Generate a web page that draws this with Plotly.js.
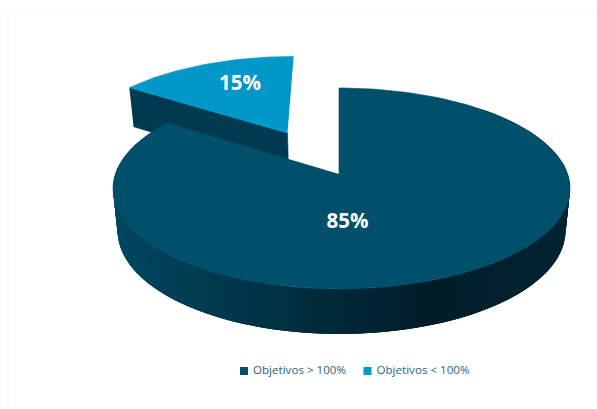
<!DOCTYPE html>
<html><head><meta charset="utf-8">
<script src="https://cdn.plot.ly/plotly-3.0.1.min.js"></script>
<style>html,body{margin:0;padding:0;background:#fff}#c{width:597px;height:409px}</style>
</head><body><div id="c"></div>
<script>
const categories = ['Objetivos > 100%', 'Objetivos < 100%'];
const values = [85, 15];
const labels = ['85%', '15%'];
const topColors = ['#004F6B', '#0097C9'];
const sliceWallColor = '#003A50';
const legendTextColor = '#2B6578';

// View of the tilted disc on the pixel-ranged axes
const view = {x0:339, y0:174, ax:[223.6,228.6], b:98.4, k:0.144, warp:2, depth:42, depthTilt:3, shrink:0.98, xc:341};
const explode = [[0,0],[-0.245,0.443]];

function rim(deg, off){
  const t = (deg + view.warp*Math.sin(2*deg*Math.PI/180))*Math.PI/180;
  return [off[0]+Math.sin(t), off[1]+Math.cos(t)];
}
function proj(p){
  const w = 1+view.k*p[1], a = p[0]<0?view.ax[0]:view.ax[1];
  return [view.x0+a*p[0]/w, view.y0-view.b*p[1]/w];
}
function lower(p){
  const q = proj(p);
  return [view.xc+(q[0]-view.xc)*view.shrink, q[1]+view.depth-view.depthTilt*p[1]];
}
function poly(pts,color,name,lineWidth){
  return {type:'scatter',mode:'lines',x:pts.map(p=>p[0]),y:pts.map(p=>p[1]),fill:'toself',fillcolor:color,
    line:{color:color,width:lineWidth},hoverinfo:'skip',showlegend:false,name:name};
}
function arc(a,b,off){const o=[];const n=Math.ceil(Math.abs(b-a)/1.5);for(let i=0;i<=n;i++)o.push(rim(a+(b-a)*i/n,off));return o;}
function mix(a,b,f){return 'rgb('+a.map((v,i)=>Math.round(v+(b[i]-v)*f)).join(',')+')';}
function wallColor(x){
  const L=[0,71,96],D=[0,28,40],R=[0,36,50];
  return x<433?mix(L,D,Math.max(0,(x-113)/320)):mix(D,R,(x-433)/137);
}

const total = values.reduce((a,b)=>a+b,0);
const sweep = values.map(v=>v/total*360);
const traces = [];

// exploded slice
const s0 = sweep[0], s1 = sweep[0]+sweep[1], off = explode[1];
const apex = off;
const cornerL = rim(s0,off);
traces.push(poly([proj(cornerL),proj(apex),lower(apex),lower(cornerL)],sliceWallColor,categories[1]+' wall',0.6));
traces.push(poly([proj(apex),...arc(s0,s1,off).map(proj)],topColors[1],categories[1],0.6));

// main slice wall: overlapping strips so no seams show
const main = arc(40,s0,[0,0]);
for(let i=0;i<main.length-1;i++){
  const a=main[i],b=main[Math.min(i+3,main.length-1)];
  const m=main[i+1];
  traces.push(poly([proj(a),proj(m),proj(b),lower(b),lower(m),lower(a)],wallColor(proj(a)[0]),categories[0]+' wall',0));
}
// main slice top
traces.push(poly([proj([0,0]),...arc(0,s0,[0,0]).map(proj)],topColors[0],categories[0],0.6));

// value labels
traces.push({type:'scatter',mode:'text',x:[347.5,240],y:[222.5,85],text:labels,textposition:'middle center',
  textfont:{family:'Open Sans, sans-serif',size:20.5,color:'#fff',weight:700},hoverinfo:'skip',showlegend:false});

// legend
const legX=[244,367.5], legY=371;
traces.push({type:'scatter',mode:'markers+text',x:legX,y:[legY,legY],text:categories.map(c=>' '+c),textposition:'middle right',
  marker:{symbol:'square',size:8,color:topColors},textfont:{family:'Open Sans, sans-serif',size:11.6,color:legendTextColor},hoverinfo:'skip',showlegend:false});

Plotly.newPlot('c',traces,{
  width:597,height:409,margin:{l:0,r:0,t:0,b:0},paper_bgcolor:'#fff',plot_bgcolor:'#fff',showlegend:false,
  xaxis:{range:[0,597],visible:false,fixedrange:true},
  yaxis:{range:[409,0],visible:false,fixedrange:true},
  shapes:[{type:'path',xref:'x',yref:'y',path:'M 8 409 L 8 11 L 597 11',line:{color:'#F7F7F7',width:1},layer:'below'}]
},{displayModeBar:false,staticPlot:true});
</script></body></html>
